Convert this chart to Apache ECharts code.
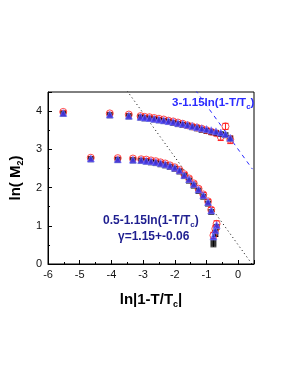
<!DOCTYPE html>
<html><head><meta charset="utf-8">
<script src="https://cdn.jsdelivr.net/npm/echarts@6/dist/echarts.min.js"></script>
<style>html,body{margin:0;padding:0;background:#fff}#c{width:283px;height:377px}</style>
</head><body><div id="c"></div>
<script>
// ---- data ----
var upperX     = [-5.52,-4.05,-3.45,-3.08,-2.95,-2.80,-2.65,-2.50,-2.35,-2.20,-2.05,-1.90,-1.75,-1.60,-1.45,-1.30,-1.15,-1.00,-0.85,-0.70,-0.55,-0.40,-0.25];
var upperBlue  = [3.95,3.91,3.88,3.85,3.83,3.82,3.80,3.78,3.76,3.74,3.72,3.69,3.67,3.64,3.61,3.58,3.55,3.53,3.50,3.47,3.44,3.40,3.30];
var upperRed   = [3.98,3.94,3.91,3.87,3.85,3.84,3.82,3.80,3.78,3.75,3.73,3.70,3.67,3.63,3.60,3.57,3.54,3.50,3.46,3.42,3.33,3.60,3.25];
var upperRedErr= [0.03,0.03,0.03,0.03,0.03,0.03,0.03,0.03,0.03,0.03,0.03,0.03,0.03,0.03,0.03,0.04,0.04,0.05,0.05,0.06,0.10,0.08,0.10];
var upperBlack = [3.93,3.89,3.86,3.83,3.81,3.80,3.78,3.76,3.74,3.72,3.69,3.66,3.64,3.62,3.58,3.55,3.51,3.48,3.45,3.43,3.40,3.37,3.28];

var lowerX     = [-4.65,-3.80,-3.32,-3.06,-2.90,-2.75,-2.60,-2.45,-2.30,-2.15,-2.00,-1.85,-1.70,-1.55,-1.40,-1.25,-1.10,-0.95,-0.85,-0.68,-0.72,-0.78];
var lowerBlue  = [2.76,2.74,2.73,2.72,2.70,2.69,2.67,2.64,2.61,2.57,2.52,2.45,2.33,2.22,2.09,1.95,1.80,1.62,1.40,1.02,0.88,0.72];
var lowerRed   = [2.78,2.77,2.76,2.74,2.73,2.71,2.69,2.66,2.63,2.58,2.53,2.46,2.35,2.24,2.11,1.97,1.82,1.64,1.42,1.05,0.92,0.75];
var lowerRedErr= [0.03,0.03,0.03,0.03,0.03,0.03,0.03,0.03,0.03,0.03,0.03,0.03,0.04,0.04,0.04,0.04,0.05,0.05,0.06,0.08,0.08,0.08];
var lowerBlack = [2.74,2.72,2.71,2.70,2.68,2.66,2.64,2.61,2.58,2.54,2.49,2.42,2.30,2.18,2.05,1.91,1.76,1.58,1.36,0.97,0.80,0.55];
var lowerBlackErr=[0,0,0,0,0,0,0,0,0,0,0,0,0,0,0,0,0,0,0,0,0.08,0.10];

var fitLowIntercept = 0.5, fitHighIntercept = 3.0, fitSlope = -1.15;

var xTicks = {min:-6, max:0.5, interval:1};
var yTicks = {min:0, max:4.5, interval:1};

function zip(xs, ys){ return xs.map(function(x,i){return [x, ys[i]];}); }
function zipErr(xs, ys, es){ return xs.map(function(x,i){return [x, ys[i]-es[i], ys[i]+es[i]];}).filter(function(d){return d[2]-d[1]>0;}); }
function lineFrom(b, x0, x1){ return [[x0, b + fitSlope*x0],[x1, b + fitSlope*x1]]; }

var FONT = 'Liberation Sans, Arial, sans-serif';

function errSeries(data, color){
  return {
    type:'custom', data:data, z:3,
    renderItem:function(params, api){
      var x = api.value(0), lo = api.value(1), hi = api.value(2);
      var p1 = api.coord([x, lo]), p2 = api.coord([x, hi]);
      var w = 3;
      var st = {stroke:color, lineWidth:1};
      return {type:'group', children:[
        {type:'line', shape:{x1:p1[0],y1:p1[1],x2:p2[0],y2:p2[1]}, style:st},
        {type:'line', shape:{x1:p1[0]-w,y1:p1[1],x2:p1[0]+w,y2:p1[1]}, style:st},
        {type:'line', shape:{x1:p2[0]-w,y1:p2[1],x2:p2[0]+w,y2:p2[1]}, style:st}
      ]};
    },
    silent:true
  };
}

var chart = echarts.init(document.getElementById('c'), null, {renderer:'canvas'});
chart.setOption({
  animation:false,
  grid:{left:42, top:92, right:29, bottom:113, show:true, borderColor:'#000', borderWidth:1},
  xAxis:{
    type:'value', min:xTicks.min, max:xTicks.max, interval:xTicks.interval,
    axisLine:{onZero:false, lineStyle:{color:'#000', width:1}},
    axisTick:{inside:true, length:4, lineStyle:{color:'#000'}},
    minorTick:{show:true, splitNumber:2, length:2, lineStyle:{color:'#000'}},
    splitLine:{show:false},
    axisLabel:{color:'#111', fontFamily:FONT, fontSize:11, margin:5, showMaxLabel:false},
    name:'{a|ln|1-T/T}{s|c}{a||}', nameLocation:'middle', nameGap:26,
    nameTextStyle:{rich:{a:{fontFamily:FONT, fontSize:15, fontWeight:'bold', color:'#000'},
                         s:{fontFamily:FONT, fontSize:9, fontWeight:'bold', color:'#000', padding:[10,0,0,0]}}}
  },
  yAxis:{
    type:'value', min:yTicks.min, max:yTicks.max, interval:yTicks.interval,
    axisLine:{show:true, onZero:false, lineStyle:{color:'#000', width:1}},
    axisTick:{show:true, inside:true, length:4, lineStyle:{color:'#000'}},
    minorTick:{show:true, splitNumber:2, length:2, lineStyle:{color:'#000'}},
    splitLine:{show:false},
    axisLabel:{color:'#111', fontFamily:FONT, fontSize:11, margin:6, showMaxLabel:false},
    name:'{a|ln( M}{s|2}{a|)}', nameLocation:'middle', nameGap:22, nameRotate:90,
    nameTextStyle:{rich:{a:{fontFamily:FONT, fontSize:15, fontWeight:'bold', color:'#000'},
                         s:{fontFamily:FONT, fontSize:9, fontWeight:'bold', color:'#000', padding:[10,0,0,0]}}}
  },
  series:[
    {type:'line', data:lineFrom(fitLowIntercept, -3.5, 0.45), symbol:'none', z:1,
     lineStyle:{color:'#000', width:1, type:[1,3]}},
    {type:'line', data:lineFrom(fitHighIntercept, -1.35, 0.45), symbol:'none', z:1,
     lineStyle:{color:'#2a2aff', width:1, type:[4,4]}},
    errSeries(zipErr(upperX, upperRed, upperRedErr), '#ff2020'),
    errSeries(zipErr(lowerX, lowerRed, lowerRedErr), '#ff2020'),
    errSeries(zipErr(lowerX, lowerBlack, lowerBlackErr), '#000'),
    {type:'scatter', data:zip(upperX, upperBlack), symbol:'rect', symbolSize:6, z:4,
     itemStyle:{color:'#000'}},
    {type:'scatter', data:zip(lowerX, lowerBlack), symbol:'rect', symbolSize:6, z:4,
     itemStyle:{color:'#000'}},
    {type:'scatter', data:zip(upperX, upperRed), symbol:'circle', symbolSize:7, z:5,
     itemStyle:{color:'rgba(0,0,0,0)', borderColor:'#ff2020', borderWidth:1}},
    {type:'scatter', data:zip(lowerX, lowerRed), symbol:'circle', symbolSize:7, z:5,
     itemStyle:{color:'rgba(0,0,0,0)', borderColor:'#ff2020', borderWidth:1}},
    {type:'scatter', data:zip(upperX, upperBlue), symbol:'triangle', symbolSize:7, z:6,
     itemStyle:{color:'#3b3bff', borderColor:'#7a7aff', borderWidth:0.8}},
    {type:'scatter', data:zip(lowerX, lowerBlue), symbol:'triangle', symbolSize:7, z:6,
     itemStyle:{color:'#3b3bff', borderColor:'#7a7aff', borderWidth:0.8}}
  ],
  graphic:[
    {type:'text', left:172, top:97, z:10, style:{
      text:'{a|3-1.15ln(1-T/T}{s|c}{a|)}',
      rich:{a:{fontFamily:FONT, fontSize:11.5, fontWeight:'bold', fill:'#2a2aff'},
            s:{fontFamily:FONT, fontSize:8, fontWeight:'bold', fill:'#2a2aff', padding:[8,0,0,0]}}}},
    {type:'text', left:103, top:215, z:10, style:{
      text:'{a|0.5-1.15ln(1-T/T}{s|c}{a|)}',
      rich:{a:{fontFamily:FONT, fontSize:12, fontWeight:'bold', fill:'#1f1f90'},
            s:{fontFamily:FONT, fontSize:8, fontWeight:'bold', fill:'#1f1f90', padding:[8,0,0,0]}}}},
    {type:'text', left:118, top:231, z:10, style:{
      text:'γ=1.15+-0.06', fontFamily:FONT, fontSize:12, fontWeight:'bold', fill:'#1f1f90'}}
  ]
});
</script></body></html>
